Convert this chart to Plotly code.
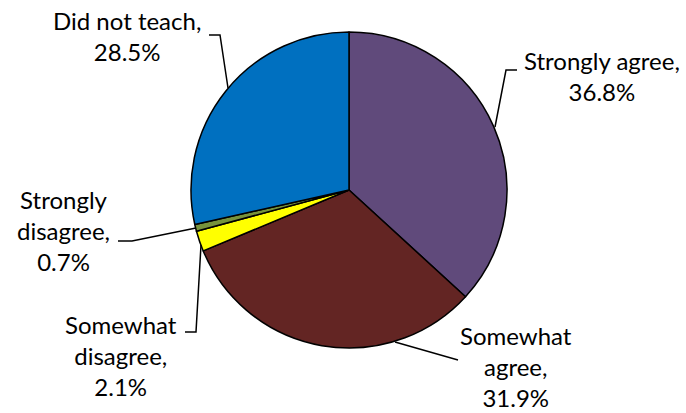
import plotly.graph_objects as go

W, H = 686, 413

categories = ["Strongly agree", "Somewhat agree", "Somewhat disagree", "Strongly disagree", "Did not teach"]
values = [36.8, 31.9, 2.1, 0.7, 28.5]
colors = ["#604A7B", "#632523", "#FFFF00", "#77933C", "#0070C0"]
label_texts = ["Strongly agree,<br>36.8%", "Somewhat<br>agree,<br>31.9%", "Somewhat<br>disagree,<br>2.1%",
               "Strongly<br>disagree,<br>0.7%", "Did not teach,<br>28.5%"]

# label centres (px) and leader paths (px)
label_pos = [(602, 76), (516, 366), (121, 355), (63, 231), (127, 36)]
leaders = [
    [(495, 127), (506, 70), (517, 70)],
    [(395, 342), (458, 360)],
    [(185, 332), (196, 332), (201, 245)],
    [(118, 241), (132, 241), (196, 228)],
    [(209, 35), (220, 35), (228, 88)],
]

def px(x, y):
    return x / W, 1 - y / H

cx, cy, r = 349, 190, 158
x0, y1 = px(cx - r, cy - r)
x1, y0 = px(cx + r, cy + r)

fig = go.Figure(go.Pie(
    labels=categories, values=values, sort=False, direction="clockwise", rotation=0,
    marker=dict(colors=colors, line=dict(color="black", width=1.5)),
    textinfo="none", hoverinfo="label+percent", showlegend=False,
    domain=dict(x=[x0, x1], y=[y0, y1]),
))

FONT = dict(family="Lato, Carlito, Calibri, sans-serif", size=24, color="black")
for txt, (lx, ly) in zip(label_texts, label_pos):
    ax_, ay_ = px(lx, ly)
    fig.add_annotation(text=txt, x=ax_, y=ay_, xref="paper", yref="paper",
                       xanchor="center", yanchor="middle", showarrow=False, font=FONT, align="center")

for pts in leaders:
    path = ""
    for i, (x, y) in enumerate(pts):
        X, Y = px(x, y)
        path += ("M " if i == 0 else " L ") + f"{X} {Y}"
    fig.add_shape(type="path", path=path, xref="paper", yref="paper",
                  line=dict(color="black", width=1.5))

fig.update_layout(width=W, height=H, margin=dict(l=0, r=0, t=0, b=0),
                  paper_bgcolor="white", plot_bgcolor="white")
fig.write_html("out.html", config={"displayModeBar": False},
               post_script="document.body.style.margin='0';document.body.style.overflow='hidden';")
